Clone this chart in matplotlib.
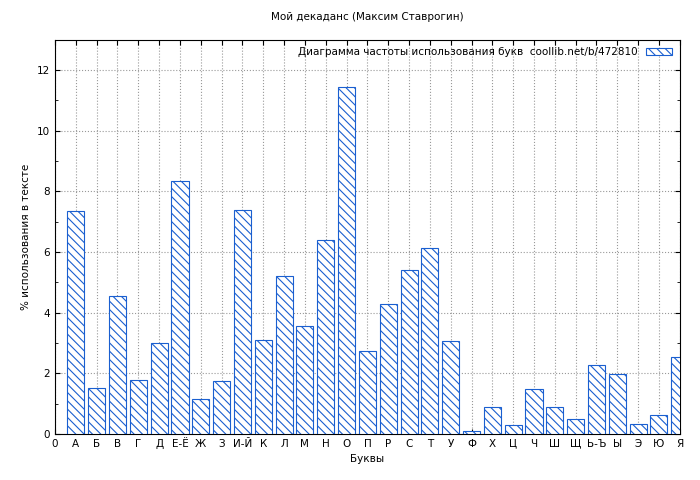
import matplotlib
matplotlib.use("Agg")
import matplotlib.pyplot as plt
import numpy as np

labels = ["0","А","Б","В","Г","Д","Е-Ё","Ж","З","И-Й","К","Л","М","Н","О","П","Р","С","Т","У","Ф","Х","Ц","Ч","Ш","Щ","Ь-Ъ","Ы","Э","Ю","Я"]
values = [7.35,1.5,4.55,1.78,3.0,8.35,1.15,1.75,7.4,3.1,5.2,3.55,6.4,11.45,2.72,4.28,5.4,6.12,3.05,0.1,0.88,0.3,1.48,0.88,0.5,2.27,1.97,0.33,0.62,2.55]

plt.rcParams['font.family'] = ['DejaVu Sans']
plt.rcParams['font.size'] = 7.5
plt.rcParams['hatch.color'] = '#1a5fd0'
plt.rcParams['hatch.linewidth'] = 0.8

fig = plt.figure(figsize=(7, 4.8), dpi=100)
ax = fig.add_axes([0.0786, 0.096, 0.8925, 0.821])
x = np.arange(1, len(values) + 1)
ax.bar(x, values, width=0.82, facecolor='white', edgecolor='#1a5fd0', hatch='\\\\\\\\', linewidth=0.8,
       label='Диаграмма частоты использования букв  coollib.net/b/472810', zorder=3)
ax.set_xlim(0, 30)
ax.set_ylim(0, 13)
ax.set_xticks(np.arange(0, 31))
ax.set_xticklabels(labels)
ax.set_yticks(np.arange(0, 13, 2))
ax.set_yticks(np.arange(0, 13, 1), minor=True)
ax.tick_params(which='both', direction='in', top=True, right=True)
ax.grid(True, linestyle=':', color='#999999', linewidth=0.8, zorder=0)
ax.set_xlabel('Буквы')
ax.set_ylabel('% использования в тексте')
ax.set_title('Мой декаданс (Максим Ставрогин)', fontsize=7.5, pad=14)
leg = ax.legend(loc='upper right', frameon=False, markerfirst=False, handlelength=2.5, handleheight=0.8,
                borderaxespad=0.3)
fig.savefig('out.png', dpi=100, facecolor='white')
